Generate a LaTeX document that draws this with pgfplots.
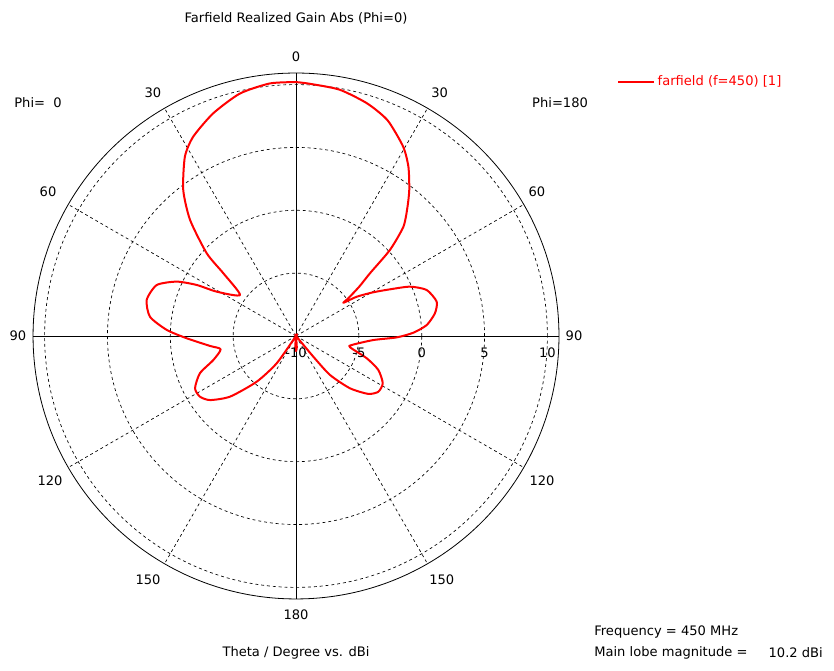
\documentclass[border=0pt]{standalone}
\usepackage{fontspec}
\setmainfont{DejaVu Sans}
\usepackage{pgfplots}
\pgfplotsset{compat=1.18}
\usepackage{pgfplotstable}

% t = theta, clockwise from the top (0..180 right half, 180..360 left half); db = realized gain
\pgfplotstableread{
t db
0 10.2
3 10.1
10 9.9
17 9.35
23 8.64
29.5 7.31
33.6 6.16
37.8 4.70
41 3.5
44.5 2.19
47.5 0.14
49.7 -2.28
52 -3.6
54.2 -4.87
55 -5.4
57.1 -4.25
60.5 -2.94
63.6 -1.65
66.6 -0.12
70.6 1.02
76.3 1.52
80.7 1.2
85.2 0.44
88.4 -0.66
90.8 -1.99
93 -3.84
99.2 -5.51
101.8 -5.61
107.5 -4.1
112.4 -2.92
118.6 -2.14
124.1 -2.09
128.7 -2.63
134.1 -4.02
138.9 -5.88
140.1 -7.85
142 -10
172 -10
176 -9.1
180 -8.8
184 -9.1
188 -10
212 -10
215.3 -7.34
220.7 -5.2
227.4 -2.87
233.3 -1.47
237.7 -0.96
242.6 -0.95
248.8 -1.8
253.8 -3.15
260 -3.91
263.4 -3.11
268.8 -1.3
272.7 0.3
277.5 1.72
283.6 2.22
290.1 1.8
294.5 0.43
297.2 -1.12
299.2 -2.77
306.2 -4.48
310.8 -2.36
312.8 -0.32
317.6 2.5
322.3 4.67
328.2 6.78
332.7 7.84
339.6 8.9
347 9.8
354.1 10.2
360 10.2
}\gainphizero

\begin{document}
\begin{tikzpicture}[every node/.style={font=\fontsize{9.8}{11}\selectfont, inner sep=0pt}]
\begin{axis}[
  x=9.4275pt, y=9.4275pt,
  xmin=-21, xmax=21, ymin=-21, ymax=21,
  hide axis, clip=false,
  legend style={at={(axis description cs:1.100,0.982)}, anchor=west,
    draw=none, fill=none, text=red, font=\fontsize{9.8}{11}\selectfont},
  legend image code/.code={\draw[#1] (0pt,0pt) -- (27pt,0pt);},
]
% page extent
\path (axis cs:-23.55,-26.65) rectangle (axis cs:42.8,26.73);
% grid
\pgfplotsinvokeforeach{5,10,15,20}{
  \draw[black, line width=0.5pt, dash pattern=on 2.2pt off 2.2pt] (axis cs:0,0) circle[radius=#1];
}
\pgfplotsinvokeforeach{30,60,120,150,210,240,300,330}{
  \draw[black, line width=0.5pt, dash pattern=on 2.2pt off 2.2pt] (axis cs:0,0) -- (axis cs:{20.92*cos(#1)},{20.92*sin(#1)});
}
\draw[black, line width=0.6pt] (axis cs:0,0) circle[radius=20.92];
\draw[black, line width=0.6pt] (axis cs:-20.92,0) -- (axis cs:20.92,0);
\draw[black, line width=0.6pt] (axis cs:0,-20.92) -- (axis cs:0,20.92);

\addplot[red, line width=1.5pt, line join=round, smooth, tension=0.4, data cs=polar]
  table[x expr={90-\thisrow{t}}, y expr={\thisrow{db}+10}] {\gainphizero};
\addlegendentry{farfield (f=450) [1]}

% angle labels
\node at (axis cs:0,25.3) {Farfield Realized Gain Abs (Phi=0)};
\node at (axis cs:0,22.2) {0};
\node at (axis cs:-11.38,19.33) {30};
\node at (axis cs:11.42,19.33) {30};
\node[anchor=west] at (axis cs:-22.43,18.54) {Phi=\ \ 0};
\node[anchor=west] at (axis cs:18.77,18.54) {Phi=180};
\node at (axis cs:-19.73,11.46) {60};
\node at (axis cs:19.17,11.46) {60};
\node at (axis cs:-22.12,0) {90};
\node at (axis cs:22.12,0) {90};
\node at (axis cs:-19.57,-11.54) {120};
\node at (axis cs:19.57,-11.54) {120};
\node at (axis cs:-11.77,-19.41) {150};
\node at (axis cs:11.6,-19.41) {150};
\node at (axis cs:0,-22.2) {180};
\node at (axis cs:0,-25.22) {Theta / Degree vs. dBi};
% radial labels
\node at (axis cs:0,-1.35) {-10};
\node at (axis cs:5,-1.35) {-5};
\node at (axis cs:10,-1.35) {0};
\node at (axis cs:15,-1.35) {5};
\node at (axis cs:20,-1.35) {10};
% info text
\node[anchor=west] at (axis cs:23.71,-23.55) {Frequency = 450 MHz};
\node[anchor=west] at (axis cs:23.71,-25.22) {Main lobe magnitude =};
\node[anchor=east] at (axis cs:41.93,-25.22) {10.2 dBi};
\end{axis}
\end{tikzpicture}
\end{document}
